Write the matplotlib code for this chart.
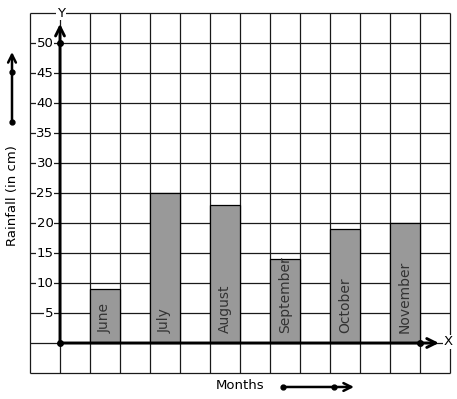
import matplotlib
matplotlib.use("Agg")
import matplotlib.pyplot as plt
import numpy as np

months = ["June", "July", "August", "September", "October", "November"]
rainfall = [9, 25, 23, 14, 19, 20]
y_ticks = [5, 10, 15, 20, 25, 30, 35, 40, 45, 50]

# figure sized to the reference, axes filling it; 1 cell = 30 px = 5 cm
fig = plt.figure(figsize=(4.57, 3.99), dpi=100)
ax = fig.add_axes([0, 0, 1, 1])
ax.set_xlim(-2, 13.2333)
ax.set_ylim(-9.3333, 57.1667)
ax.axis("off")

# graph paper
grid_c = "#1a1a1a"
ax.vlines(np.arange(-1, 14), -5, 55, color=grid_c, lw=0.9, zorder=1)
ax.hlines(np.arange(-5, 56, 5), -1, 13, color=grid_c, lw=0.9, zorder=1)

# bars
x = 1.5 + 2 * np.arange(len(months))
ax.bar(x, rainfall, width=1.0, color="#999999", edgecolor="black", lw=0.9, zorder=2)
for xi, name in zip(x, months):
    ax.text(xi, 1.6, name, rotation=90, ha="center", va="bottom",
            fontsize=10, color="#333333", zorder=3)

# axes with arrows
arr = dict(arrowstyle="->", lw=2.1, color="black", mutation_scale=16,
           shrinkA=0, shrinkB=0)
ax.annotate("", xy=(0, 53.2), xytext=(0, 0), arrowprops=arr, zorder=4)
ax.annotate("", xy=(12.63, 0), xytext=(0, 0), arrowprops=arr, zorder=4)
ax.plot([0, 0, 12], [0, 50, 0], "o", color="black", ms=4, zorder=5)

bg = dict(facecolor="white", edgecolor="none", pad=0.5)
ax.text(0.03, 55, "Y", ha="center", va="center", fontsize=9.5, bbox=bg, zorder=4)
ax.text(12.93, 0.2, "X", ha="center", va="center", fontsize=9.5, bbox=bg, zorder=4)
for t in y_ticks:
    ax.text(-0.22, t, str(t), ha="right", va="center", fontsize=9.5, bbox=bg, zorder=4)

# side labels with decorative arrows
ax.text(-1.6, 24.5, "Rainfall (in cm)", rotation=90, ha="center", va="center", fontsize=9.5)
ax.annotate("", xy=(-1.6, 48.5), xytext=(-1.6, 36.8),
            arrowprops=dict(arrowstyle="->", lw=1.8, color="black",
                            mutation_scale=14, shrinkA=0, shrinkB=0))
ax.plot([-1.6, -1.6], [36.8, 45.2], "o", color="black", ms=3.5)

ax.text(6.0, -7.0, "Months", ha="center", va="center", fontsize=9.5)
ax.annotate("", xy=(9.8, -7.33), xytext=(7.43, -7.33),
            arrowprops=dict(arrowstyle="->", lw=1.8, color="black",
                            mutation_scale=14, shrinkA=0, shrinkB=0))
ax.plot([7.43, 9.13], [-7.33, -7.33], "o", color="black", ms=3.5)

fig.savefig("out.png", dpi=100)
